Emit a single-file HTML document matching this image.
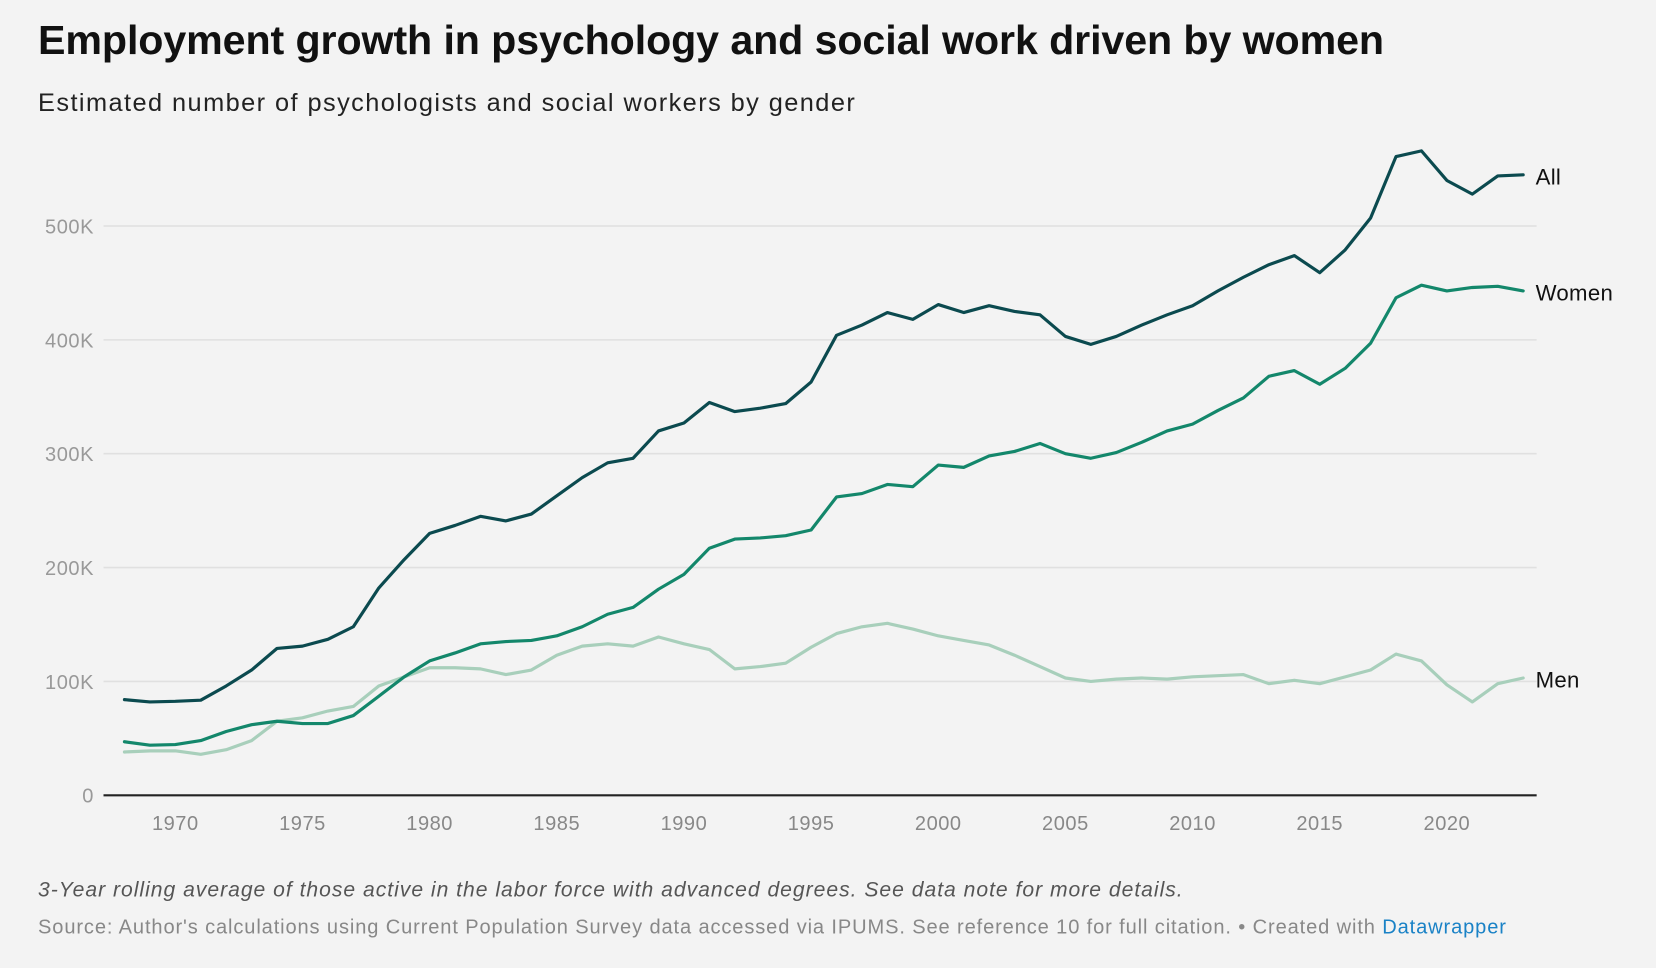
<!DOCTYPE html>
<html><head><meta charset="utf-8"><style>
html,body{margin:0;padding:0;background:#f3f3f3;width:1656px;height:968px;overflow:hidden}
#wrap{width:1568px;height:916px;transform:scale(1.05612);transform-origin:0 0;position:relative;font-family:"Liberation Sans",sans-serif}
h1{position:absolute;left:36px;top:17px;margin:0;font-size:39px;font-weight:bold;color:#111;letter-spacing:-0.1px;white-space:nowrap}
.sub{position:absolute;left:36px;top:84px;font-size:24px;color:#222;letter-spacing:1.35px;white-space:nowrap}
.note{position:absolute;left:36px;top:832px;font-size:20px;font-style:italic;color:#555;letter-spacing:0.93px;white-space:nowrap}
.src{position:absolute;left:36px;top:868px;font-size:19px;color:#888;letter-spacing:0.83px;white-space:nowrap}
.src span{color:#1a82c6}
svg{position:absolute;left:0;top:0}
</style></head><body>
<div id="wrap">
<h1>Employment growth in psychology and social work driven by women</h1>
<div class="sub">Estimated number of psychologists and social workers by gender</div>
<svg id="chart" width="1568" height="916"></svg>
<div class="note">3-Year rolling average of those active in the labor force with advanced degrees. See data note for more details.</div>
<div class="src">Source: Author's calculations using Current Population Survey data accessed via IPUMS. See reference 10 for full citation. • Created with <span>Datawrapper</span></div>
</div>
<script>
const years=[];for(let y=1968;y<=2023;y++)years.push(y);
const allVals=[84,82,82.5,83.5,96,110,129,131,137,148,182,207,230,237,245,241,247,263,279,292,296,320,327,345,337,340,344,363,404,413,424,418,431,424,430,425,422,403,396,403,413,422,430,443,455,466,474,459,479,507,561,566,540,528,544,545];
const womenVals=[47,44,44.5,48,56,62,65,63,63,70,87,104,118,125,133,135,136,140,148,159,165,181,194,217,225,226,228,233,262,265,273,271,290,288,298,302,309,300,296,301,310,320,326,338,349,368,373,361,375,397,437,448,443,446,447,443];
const menVals=[38,39,39,36,40,48,65,68,74,78,96,104,112,112,111,106,110,123,131,133,131,139,133,128,111,113,116,130,142,148,151,146,140,136,132,123,113,103,100,102,103,102,104,105,106,98,101,98,104,110,124,118,97,82,98,103];
const yTicks=[0,100,200,300,400,500];
const yTickLabels=["0","100K","200K","300K","400K","500K"];
const xTicks=[1970,1975,1980,1985,1990,1995,2000,2005,2010,2015,2020];
const X=y=>166+(y-1970)*24.08;
const Y=v=>753-v*1.078;
const svg=document.getElementById('chart');
const NS='http://www.w3.org/2000/svg';
function mk(t,a){const e=document.createElementNS(NS,t);for(const k in a)e.setAttribute(k,a[k]);svg.appendChild(e);return e;}
yTicks.forEach((v,i)=>{
  if(v>0){const g=mk('line',{x1:98,x2:1455,y1:Y(v),y2:Y(v),stroke:'#e0e0e0','stroke-width':1.5});
  
  }
  const t=mk('text',{x:89,y:Y(v)+7,'text-anchor':'end','font-size':19,fill:'#999','letter-spacing':0.5});
  t.textContent=yTickLabels[i];
  
  
});
xTicks.forEach(y=>{
  const t=mk('text',{x:X(y),y:786,'text-anchor':'middle','font-size':19,fill:'#888','letter-spacing':0.5});
  t.textContent=y;
  
  
});
const series=[[menVals,'#a8cfbb','Men'],[womenVals,'#13876b','Women'],[allVals,'#0b4a4f','All']];
series.forEach(([vals,c,name])=>{
  const p=mk('polyline',{points:vals.map((v,i)=>X(years[i])+','+Y(v)).join(' '),fill:'none',stroke:c,'stroke-width':3,'stroke-linejoin':'round','stroke-linecap':'round'});
  
  
  const t=mk('text',{x:1454,y:Y(vals[vals.length-1])+9,'font-size':21,fill:'#111','letter-spacing':0.3});
  t.textContent=name;
  
  
});
const ax=mk('line',{x1:98,x2:1455,y1:753,y2:753,stroke:'#222','stroke-width':2});


</script>
</body></html>
